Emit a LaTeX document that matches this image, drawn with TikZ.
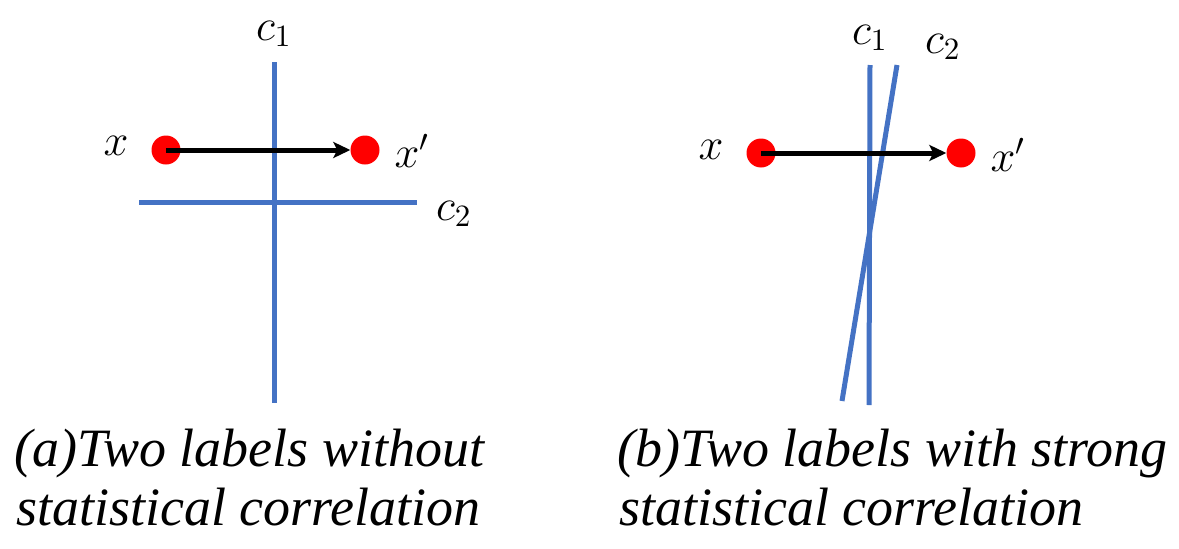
\documentclass[tikz,border=0pt]{standalone}
\usepackage{fontspec}
\newfontfamily\capfont{Liberation Serif}
\usetikzlibrary{arrows.meta}
\definecolor{lineblue}{HTML}{4472C4}
\definecolor{dotred}{HTML}{FF0000}
\tikzset{
  bline/.style={draw=lineblue,line width=5pt},
  dot/.style={circle,fill=dotred,minimum size=29pt,inner sep=0pt},
  mlabel/.style={font=\Large,inner sep=0pt,scale=3.1,transform shape},
  arr/.style={draw=black,line width=5pt,-{Stealth[length=17pt,width=16pt,inset=4pt]}},
  caption/.style={font=\capfont\itshape\fontsize{54}{56}\selectfont,inner sep=0pt,anchor=base west}
}
\begin{document}
\begin{tikzpicture}[x=1pt,y=-1pt]
\useasboundingbox (0,0) rectangle (1179,549);
% left panel
\coordinate (c1top) at (274,62);
\coordinate (c1bot) at (274,403);
\coordinate (c2l) at (139,202);
\coordinate (c2r) at (417,202);
\draw[bline] (c1top) -- (c1bot);
\draw[bline] (c2l) -- (c2r);
\node[mlabel] (lc1) at (274,34) {$c_1$};
\node[mlabel] (lc2) at (454,214) {$c_2$};
\node[dot] (xa) at (166,150) {};
\node[dot] (xpa) at (365,150) {};
\draw[arr] (xa.center) -- (xpa.west);
\node[mlabel] (lxa) at (116,146) {$x$};
\node[mlabel] (lxpa) at (412,151) {$x'$};
% right panel
\coordinate (d1top) at (870,65);
\coordinate (d1bot) at (869,405);
\coordinate (d2top) at (897,65);
\coordinate (d2bot) at (842,401);
\draw[bline] (d1top) -- (d1bot);
\draw[bline] (d2top) -- (d2bot);
\node[mlabel] (lc1b) at (870,38) {$c_1$};
\node[mlabel] (lc2b) at (943,47) {$c_2$};
\node[dot] (xb) at (761,153) {};
\node[dot] (xpb) at (961,153) {};
\draw[arr] (xb.center) -- (xpb.west);
\node[mlabel] (lxb) at (711,150) {$x$};
\node[mlabel] (lxpb) at (1008,155) {$x'$};
% captions
\node[caption] (capa1) at (14,466) {(a)Two labels without};
\node[caption] (capa2) at (16,525) {statistical correlation};
\node[caption] (capb1) at (617,466) {(b)Two labels with strong};
\node[caption] (capb2) at (619,525) {statistical correlation};
\end{tikzpicture}
\end{document}
